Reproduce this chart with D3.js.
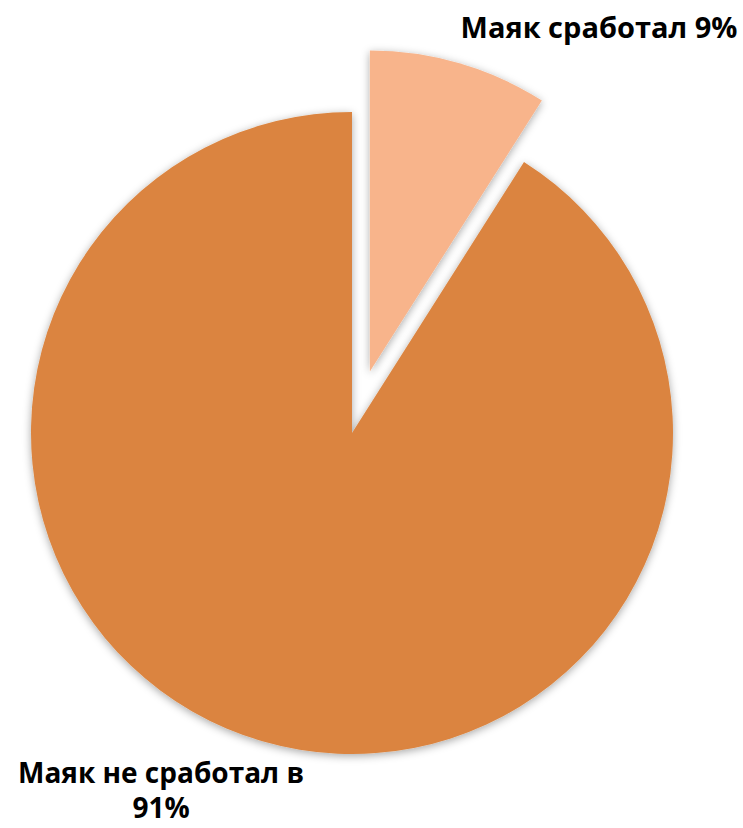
<!DOCTYPE html>
<html>
<head>
<meta charset="utf-8">
<script src="https://cdn.jsdelivr.net/npm/d3@7"></script>
<style>
  body { margin: 0; background: #fff; }
  text { font-family: "Open Sans", Lato, sans-serif; font-weight: bold; fill: #000; }
</style>
</head>
<body>
<svg id="chart" width="743" height="828"></svg>
<script>
// chart data
const categories = ["Маяк сработал", "Маяк не сработал в"];
const values = [9, 91];
const colors = ["#F8B48B", "#DB843F"];
const exploded = [true, false];

const svg = d3.select("#chart");
const cx = 352, cy = 433, radius = 321, explode = 64;

const defs = svg.append("defs");
const f = defs.append("filter").attr("id", "shadow")
    .attr("x", "-10%").attr("y", "-10%").attr("width", "120%").attr("height", "120%");
f.append("feDropShadow")
    .attr("dx", 0).attr("dy", 2)
    .attr("stdDeviation", 4)
    .attr("flood-color", "#000")
    .attr("flood-opacity", 0.35);

const pie = d3.pie().sort(null).value(d => d);
const arcs = pie(values);
const arcGen = d3.arc().innerRadius(0).outerRadius(radius);

const g = svg.append("g").attr("transform", `translate(${cx},${cy})`);

g.selectAll("path")
    .data(arcs)
    .join("path")
    .attr("d", arcGen)
    .attr("fill", (d, i) => colors[i])
    .attr("filter", "url(#shadow)")
    .attr("transform", (d, i) => {
        if (!exploded[i]) return null;
        const mid = (d.startAngle + d.endAngle) / 2;
        return `translate(${explode * Math.sin(mid)},${-explode * Math.cos(mid)})`;
    });

// labels
svg.append("text")
    .attr("x", 599).attr("y", 38)
    .attr("text-anchor", "middle")
    .attr("font-size", "29px")
    .text(`${categories[0]} ${values[0]}%`);

// bottom label: two separate lines
svg.append("text")
    .attr("x", 161).attr("y", 783)
    .attr("text-anchor", "middle")
    .attr("font-size", "28px")
    .text(categories[1]);
svg.append("text")
    .attr("x", 161).attr("y", 818)
    .attr("text-anchor", "middle")
    .attr("font-size", "28px")
    .text(`${values[1]}%`);
</script>
</body>
</html>
